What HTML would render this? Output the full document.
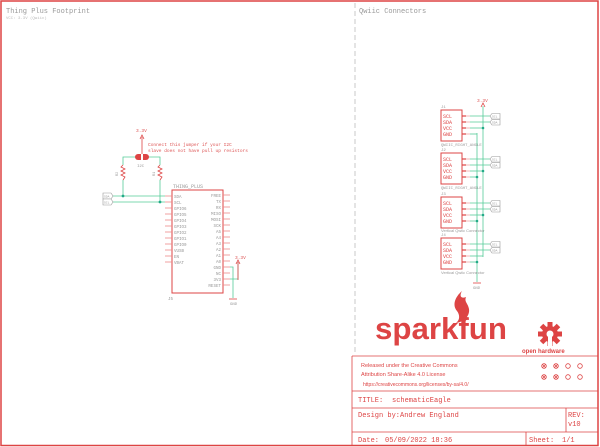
<!DOCTYPE html>
<html><head><meta charset="utf-8"><style>
html,body{margin:0;padding:0;background:#fff;}
svg{display:block;font-family:"Liberation Mono","DejaVu Sans Mono",monospace;}
</style></head><body>
<svg width="600" height="447" viewBox="0 0 600 447" xmlns="http://www.w3.org/2000/svg">
<rect x="1" y="1" width="597" height="444.5" fill="none" stroke="#d44" stroke-width="1.5"/>
<line x1="355" y1="3" x2="355" y2="352" stroke="#bbb" stroke-dasharray="5,3" stroke-width="0.8"/>
<g fill="#999" font-size="7">
<text x="6" y="13">Thing Plus Footprint</text>
<text x="359" y="13">Qwiic Connectors</text>
</g>
<text x="6" y="19" font-size="4" fill="#bbb">VCC: 3.3V (Qwiic)</text>

<!-- LEFT SCHEMATIC -->
<rect x="172" y="190" width="51" height="103" fill="none" stroke="#d44" stroke-width="1"/>
<g stroke="#e88" stroke-width="0.8">
<line x1="165" y1="196" x2="172" y2="196"/><line x1="165" y1="202" x2="172" y2="202"/>
<line x1="165" y1="208" x2="172" y2="208"/><line x1="165" y1="214" x2="172" y2="214"/>
<line x1="165" y1="220" x2="172" y2="220"/><line x1="165" y1="226" x2="172" y2="226"/>
<line x1="165" y1="232" x2="172" y2="232"/><line x1="165" y1="238" x2="172" y2="238"/>
<line x1="165" y1="244" x2="172" y2="244"/><line x1="165" y1="250" x2="172" y2="250"/>
<line x1="165" y1="256" x2="172" y2="256"/><line x1="165" y1="262" x2="172" y2="262"/>
</g>
<g stroke="#e88" stroke-width="0.8">
<line x1="223" y1="195" x2="230" y2="195"/><line x1="223" y1="201" x2="230" y2="201"/>
<line x1="223" y1="207" x2="230" y2="207"/><line x1="223" y1="213" x2="230" y2="213"/>
<line x1="223" y1="219" x2="230" y2="219"/><line x1="223" y1="225" x2="230" y2="225"/>
<line x1="223" y1="231" x2="230" y2="231"/><line x1="223" y1="237" x2="230" y2="237"/>
<line x1="223" y1="243" x2="230" y2="243"/><line x1="223" y1="249" x2="230" y2="249"/>
<line x1="223" y1="255" x2="230" y2="255"/><line x1="223" y1="261" x2="230" y2="261"/>
<line x1="223" y1="267" x2="230" y2="267"/><line x1="223" y1="273" x2="230" y2="273"/>
<line x1="223" y1="279" x2="230" y2="279"/><line x1="223" y1="285" x2="230" y2="285"/>
</g>
<g fill="#999" font-size="4.2">
<text x="173" y="188" font-size="5">THING_PLUS</text>
<text x="174" y="198">SDA</text><text x="174" y="204">SCL</text><text x="174" y="210">GPIO6</text>
<text x="174" y="216">GPIO5</text><text x="174" y="222">GPIO4</text><text x="174" y="228">GPIO3</text>
<text x="174" y="234">GPIO2</text><text x="174" y="240">GPIO1</text><text x="174" y="246">GPIO0</text>
<text x="174" y="252">VUSB</text><text x="174" y="258">EN</text><text x="174" y="264">VBAT</text>
</g>
<g fill="#999" font-size="4.2" text-anchor="end">
<text x="221" y="197">FREE</text><text x="221" y="203">TX</text><text x="221" y="209">RX</text>
<text x="221" y="215">MISO</text><text x="221" y="221">MOSI</text><text x="221" y="227">SCK</text>
<text x="221" y="233">A5</text><text x="221" y="239">A4</text><text x="221" y="245">A3</text>
<text x="221" y="251">A2</text><text x="221" y="257">A1</text><text x="221" y="263">A0</text>
<text x="221" y="269">GND</text><text x="221" y="275">NC</text><text x="221" y="281">3V3</text>
<text x="221" y="287">RESET</text>
<text x="173" y="300">J5</text>
</g>
<g stroke="#5c9" stroke-width="0.8" fill="none">
<polyline points="136,157 123,157 123,165"/>
<polyline points="148,157 160,157 160,165"/>
<line x1="123" y1="180" x2="123" y2="196"/>
<line x1="160" y1="180" x2="160" y2="202"/>
<line x1="113" y1="196" x2="165" y2="196"/>
<line x1="113" y1="202" x2="165" y2="202"/>
<polyline points="230,267 233,267 233,298"/>
<polyline points="230,279 238,279 238,262"/>
</g>
<g fill="#2a8">
<circle cx="123" cy="196" r="1.4"/><circle cx="160" cy="202" r="1.4"/>
</g>
<g stroke="#d44" stroke-width="0.8" fill="none">
<line x1="142" y1="137" x2="142" y2="157"/>
<polyline points="140,139 142,135 144,139"/>
<polyline points="123,165 121,167 125,169 121,171 125,173 121,175 125,177 123,180"/>
<polyline points="160,165 158,167 162,169 158,171 162,173 158,175 162,177 160,180"/>
<line x1="238" y1="262" x2="238" y2="280"/>
<polyline points="236,264 238,260 240,264"/>
<line x1="229" y1="299" x2="237" y2="299"/>
</g>
<rect x="135" y="154" width="14" height="6" rx="3" fill="#d44"/>
<rect x="141" y="154" width="2" height="6" fill="#fff"/>
<g fill="#d55" font-size="4.5">
<text x="136" y="132">3.3V</text>
<text x="148" y="146">Connect this jumper if your I2C</text>
<text x="148" y="152">slave does not have pull up resistors</text>
<text x="235" y="259">3.3V</text>
</g>
<text x="137" y="167" fill="#999" font-size="4">I2C</text>
<text x="118" y="176" fill="#999" font-size="3.5" transform="rotate(-90 118 176)">R2</text>
<text x="155" y="176" fill="#999" font-size="3.5" transform="rotate(-90 155 176)">R1</text>
<text x="230" y="305" fill="#999" font-size="4">GND</text>
<g fill="#fff" stroke="#999" stroke-width="0.6">
<polygon points="103,193 111,193 113,196 111,199 103,199"/>
<polygon points="103,199 111,199 113,202 111,205 103,205"/>
</g>
<text x="104" y="197.5" font-size="3" fill="#999">SDA</text>
<text x="104" y="203.5" font-size="3" fill="#999">SCL</text>

<!-- RIGHT QWIIC -->
<g stroke="#5c9" stroke-width="0.8" fill="none">
<line x1="483" y1="106" x2="483" y2="257"/>
<line x1="477" y1="133" x2="477" y2="282"/>
</g>
<g stroke="#d44" stroke-width="0.8" fill="none">
<polyline points="481,107 483,103 485,107"/>
<line x1="473" y1="283" x2="481" y2="283"/>
</g>
<text x="477" y="102" fill="#d55" font-size="4.5">3.3V</text>
<text x="473" y="289" fill="#999" font-size="4">GND</text>
<g fill="none" stroke="#d44" stroke-width="1">
<rect x="441" y="110" width="21" height="31"/>
<rect x="441" y="153" width="21" height="31"/>
<rect x="441" y="197" width="21" height="31"/>
<rect x="441" y="238" width="21" height="31"/>
</g>
<g font-size="5" fill="#d44">
<text x="443" y="118">SCL</text><text x="443" y="124">SDA</text><text x="443" y="130">VCC</text><text x="443" y="136">GND</text>
<text x="443" y="161">SCL</text><text x="443" y="167">SDA</text><text x="443" y="173">VCC</text><text x="443" y="179">GND</text>
<text x="443" y="205">SCL</text><text x="443" y="211">SDA</text><text x="443" y="217">VCC</text><text x="443" y="223">GND</text>
<text x="443" y="246">SCL</text><text x="443" y="252">SDA</text><text x="443" y="258">VCC</text><text x="443" y="264">GND</text>
</g>
<g fill="#999" font-size="4">
<text x="441" y="108">J1</text><text x="441" y="151">J2</text><text x="441" y="195">J3</text><text x="441" y="236">J4</text>
<text x="441" y="146">QWIIC_RIGHT_ANGLE</text>
<text x="441" y="189">QWIIC_RIGHT_ANGLE</text>
<text x="441" y="232" font-family="Liberation Sans, sans-serif">Vertical Qwiic Connector</text>
<text x="441" y="274" font-family="Liberation Sans, sans-serif">Vertical Qwiic Connector</text>
</g>
<g stroke="#d44" stroke-width="1.2">
<line x1="462" y1="116" x2="466" y2="116"/><line x1="462" y1="122" x2="466" y2="122"/><line x1="462" y1="128" x2="466" y2="128"/><line x1="462" y1="134" x2="466" y2="134"/>
<line x1="462" y1="159" x2="466" y2="159"/><line x1="462" y1="165" x2="466" y2="165"/><line x1="462" y1="171" x2="466" y2="171"/><line x1="462" y1="177" x2="466" y2="177"/>
<line x1="462" y1="203" x2="466" y2="203"/><line x1="462" y1="209" x2="466" y2="209"/><line x1="462" y1="215" x2="466" y2="215"/><line x1="462" y1="221" x2="466" y2="221"/>
<line x1="462" y1="244" x2="466" y2="244"/><line x1="462" y1="250" x2="466" y2="250"/><line x1="462" y1="256" x2="466" y2="256"/><line x1="462" y1="262" x2="466" y2="262"/>
</g>
<g stroke="#e99" stroke-width="0.7">
<line x1="466" y1="116" x2="470" y2="116"/><line x1="466" y1="122" x2="470" y2="122"/><line x1="466" y1="128" x2="470" y2="128"/><line x1="466" y1="134" x2="470" y2="134"/>
<line x1="466" y1="159" x2="470" y2="159"/><line x1="466" y1="165" x2="470" y2="165"/><line x1="466" y1="171" x2="470" y2="171"/><line x1="466" y1="177" x2="470" y2="177"/>
<line x1="466" y1="203" x2="470" y2="203"/><line x1="466" y1="209" x2="470" y2="209"/><line x1="466" y1="215" x2="470" y2="215"/><line x1="466" y1="221" x2="470" y2="221"/>
<line x1="466" y1="244" x2="470" y2="244"/><line x1="466" y1="250" x2="470" y2="250"/><line x1="466" y1="256" x2="470" y2="256"/><line x1="466" y1="262" x2="470" y2="262"/>
</g>
<g stroke="#5c9" stroke-width="0.8">
<line x1="470" y1="116" x2="490" y2="116"/><line x1="470" y1="122" x2="490" y2="122"/><line x1="470" y1="128" x2="483" y2="128"/><line x1="470" y1="134" x2="477" y2="134"/>
<line x1="470" y1="159" x2="490" y2="159"/><line x1="470" y1="165" x2="490" y2="165"/><line x1="470" y1="171" x2="483" y2="171"/><line x1="470" y1="177" x2="477" y2="177"/>
<line x1="470" y1="203" x2="490" y2="203"/><line x1="470" y1="209" x2="490" y2="209"/><line x1="470" y1="215" x2="483" y2="215"/><line x1="470" y1="221" x2="477" y2="221"/>
<line x1="470" y1="244" x2="490" y2="244"/><line x1="470" y1="250" x2="490" y2="250"/><line x1="470" y1="256" x2="483" y2="256"/><line x1="470" y1="262" x2="477" y2="262"/>
</g>
<g fill="#2a8">
<circle cx="483" cy="128" r="1.3"/><circle cx="483" cy="171" r="1.3"/><circle cx="483" cy="215" r="1.3"/>
<circle cx="477" cy="177" r="1.3"/><circle cx="477" cy="221" r="1.3"/><circle cx="477" cy="262" r="1.3"/>
</g>
<g fill="#fff" stroke="#999" stroke-width="0.6">
<polygon points="490,116 492,113.5 500,113.5 500,119 492,119"/>
<polygon points="490,122 492,119.5 500,119.5 500,125 492,125"/>
<polygon points="490,159 492,156.5 500,156.5 500,162 492,162"/>
<polygon points="490,165 492,162.5 500,162.5 500,168 492,168"/>
<polygon points="490,203 492,200.5 500,200.5 500,206 492,206"/>
<polygon points="490,209 492,206.5 500,206.5 500,212 492,212"/>
<polygon points="490,244 492,241.5 500,241.5 500,247 492,247"/>
<polygon points="490,250 492,247.5 500,247.5 500,253 492,253"/>
</g>
<g font-size="3" fill="#999">
<text x="492" y="117.5">SCL</text><text x="492" y="123.5">SDA</text>
<text x="492" y="160.5">SCL</text><text x="492" y="166.5">SDA</text>
<text x="492" y="204.5">SCL</text><text x="492" y="210.5">SDA</text>
<text x="492" y="245.5">SCL</text><text x="492" y="251.5">SDA</text>
</g>

<!-- LOGO -->
<path d="M462,291 C455,297 452,305 457,311 C460,315 460,320 456,323 C464,322 470,316 469,309 C468,303 464,302 466,297 C461,299 459,296 462,291 Z" fill="#d44"/>
<text x="375" y="339" font-family="Liberation Sans, sans-serif" font-weight="bold" font-size="31" fill="#d44" textLength="132" lengthAdjust="spacingAndGlyphs">sparkfun</text>
<g transform="translate(550,334)" fill="#d44">
<circle r="8"/>
<rect x="-2.5" y="-12" width="5" height="24"/>
<rect x="-12" y="-2.5" width="24" height="5"/>
<rect x="-2.5" y="-12" width="5" height="24" transform="rotate(45)"/>
<rect x="-2.5" y="-12" width="5" height="24" transform="rotate(-45)"/>
<circle r="3.5" fill="#fff"/>
<rect x="-2" y="2" width="4" height="10" fill="#fff"/>
</g>
<text x="522" y="353" font-size="6" fill="#d44" font-weight="bold" font-family="Liberation Sans, sans-serif">open hardware</text>

<!-- TITLE BLOCK -->
<g stroke="#d44" stroke-width="0.8" fill="none">
<line x1="352" y1="356" x2="598" y2="356"/>
<line x1="352" y1="356" x2="352" y2="446"/>
<line x1="352" y1="391" x2="598" y2="391"/>
<line x1="352" y1="408" x2="598" y2="408"/>
<line x1="352" y1="432" x2="598" y2="432"/>
<line x1="566" y1="408" x2="566" y2="432"/>
<line x1="526" y1="432" x2="526" y2="446"/>
</g>
<g font-family="Liberation Sans, sans-serif" font-size="5.5" fill="#d44">
<text x="361" y="367">Released under the Creative Commons</text>
<text x="361" y="376">Attribution Share-Alike 4.0 License</text>
<text x="363" y="386" font-size="5">https://creativecommons.org/licenses/by-sa/4.0/</text>
</g>
<g stroke="#d44" stroke-width="0.8" fill="none">
<circle cx="544" cy="366" r="2.3"/><circle cx="556" cy="366" r="2.3"/><circle cx="568" cy="366" r="2.3"/><circle cx="580" cy="366" r="2.3"/>
<circle cx="544" cy="377" r="2.3"/><circle cx="556" cy="377" r="2.3"/><circle cx="568" cy="377" r="2.3"/><circle cx="580" cy="377" r="2.3"/>
<path d="M542.5,364.5 l3,3 M545.5,364.5 l-3,3 M554.5,364.5 l3,3 M557.5,364.5 l-3,3 M542.5,375.5 l3,3 M545.5,375.5 l-3,3 M554.5,375.5 l3,3 M557.5,375.5 l-3,3"/>
</g>
<g font-size="7" fill="#d44">
<text x="358" y="402">TITLE:</text>
<text x="392" y="402">schematicEagle</text>
<text x="358" y="417">Design by:Andrew England</text>
<text x="568" y="417">REV:</text>
<text x="568" y="426">v10</text>
<text x="358" y="442">Date:</text>
<text x="385" y="442">05/09/2022 18:36</text>
<text x="529" y="442">Sheet:</text>
<text x="562" y="442">1/1</text>
</g>
</svg>
</body></html>
